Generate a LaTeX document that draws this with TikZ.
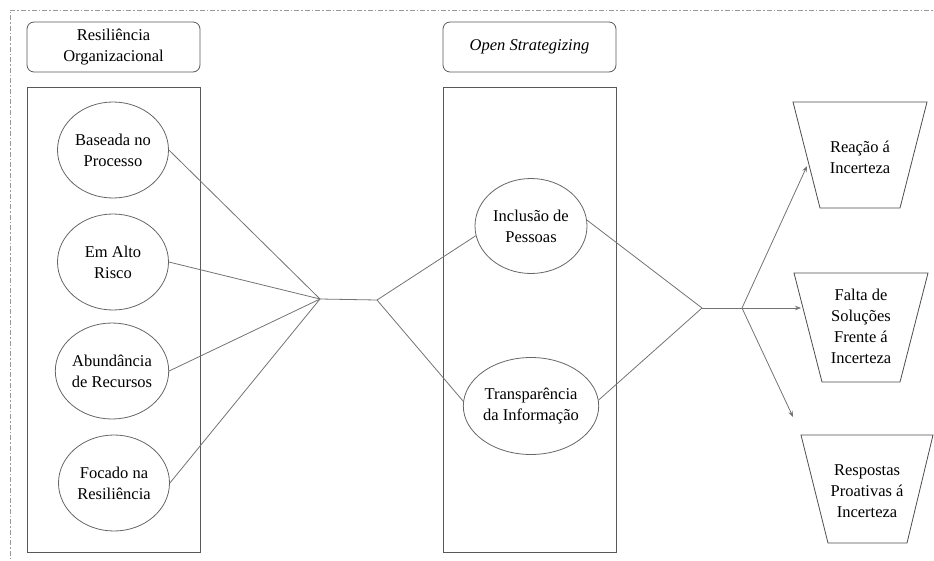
\documentclass[tikz,border=0pt]{standalone}
\usepackage{fontspec}
\setmainfont{LiberationSerif}[Extension=.ttf,UprightFont=*-Regular,ItalicFont=*-Italic,BoldFont=*-Bold]
\usetikzlibrary{shapes.geometric,arrows.meta}
\begin{document}
\begin{tikzpicture}[x=1pt,y=-1pt,
  txt/.style={align=center,font=\fontsize{16.5}{21}\selectfont,text=black},
  oval/.style={ellipse,draw=black!60,line width=0.8pt,minimum width=111pt,minimum height=96pt,inner sep=0pt,txt},
  hdr/.style={draw=black!65,rounded corners=7pt,line width=0.8pt,minimum width=173pt,minimum height=50pt,inner sep=0pt,txt},
  panel/.style={draw=black!65,line width=0.8pt,inner sep=0pt,minimum width=173pt,minimum height=465pt},
  trap/.style={draw=black!70,line width=0.8pt},
  tlabel/.style={inner sep=0pt,txt},
  conn/.style={draw=black!55,line width=0.8pt},
  arr/.style={conn,-{Stealth[length=6pt,width=4.5pt]}},
  frame/.style={draw=black!40,line width=0.8pt,dash pattern=on 5pt off 2pt on 1.5pt off 2pt}
]
\useasboundingbox (0,0) rectangle (934,560);
% outer frame
\coordinate (fb) at (10,566);
\coordinate (fc) at (10,10);
\coordinate (fr) at (940,10);
\draw[frame] (fb) -- (fc) -- (fr);

% headers
\node[hdr] (h1) at (113.5,47) {Resiliência\\Organizacional};
\node[hdr] (h2) at (529.5,47) {\itshape Open Strategizing};

% panels
\node[panel] (p1) at (113.5,319.5) {};
\node[panel] (p2) at (530,319.5) {};

% left ellipses
\node[oval] (e1) at (113,150) {Baseada no\\Processo};
\node[oval] (e2) at (113,262) {Em Alto\\Risco};
\node[oval] (e3) at (112,371) {Abundância\\de Recursos};
\node[oval] (e4) at (114,483) {Focado na\\Resiliência};

% middle ellipses
\node[oval,minimum width=112pt,minimum height=95pt] (m1) at (531,226) {Inclusão de\\Pessoas};
\node[oval,minimum width=112pt,minimum height=97pt] (m2) at (531,406) {Transparência\\da Informação};

% trapezoids
\draw[trap] (793,102) -- (927,102) -- (900,208) -- (820,208) -- cycle;
\draw[trap] (794,273) -- (928,273) -- (900,382) -- (822,382) -- cycle;
\draw[trap] (801,435) -- (933,435) -- (907,543) -- (828,543) -- cycle;
\node[tlabel] (t1) at (860,157) {Reação á\\Incerteza};
\node[tlabel] (t2) at (861,326) {Falta de\\Soluções\\Frente á\\Incerteza};
\node[tlabel] (t3) at (867,491) {Respostas\\Proativas á\\Incerteza};

% junctions
\coordinate (j1) at (320,299);
\coordinate (j1b) at (377,300);
\coordinate (j2) at (702,308);
\coordinate (j2b) at (742,308);
\coordinate (a1) at (807,166);
\coordinate (a2) at (801,308);
\coordinate (a3) at (793,417);

% connectors
\draw[conn] (e1.east) -- (j1);
\draw[conn] (e2.east) -- (j1);
\draw[conn] (e3.east) -- (j1);
\draw[conn] (e4.east) -- (j1);
\draw[conn] (j1) -- (j1b);
\draw[conn] (j1b) -- (m1.190);
\draw[conn] (j1b) -- (m2.176);
\draw[conn] (m1.6) -- (j2);
\draw[conn] (m2.5) -- (j2);
\draw[conn] (j2) -- (j2b);
\draw[arr] (j2b) -- (a1);
\draw[arr] (j2b) -- (a2);
\draw[arr] (j2b) -- (a3);
\end{tikzpicture}
\end{document}
